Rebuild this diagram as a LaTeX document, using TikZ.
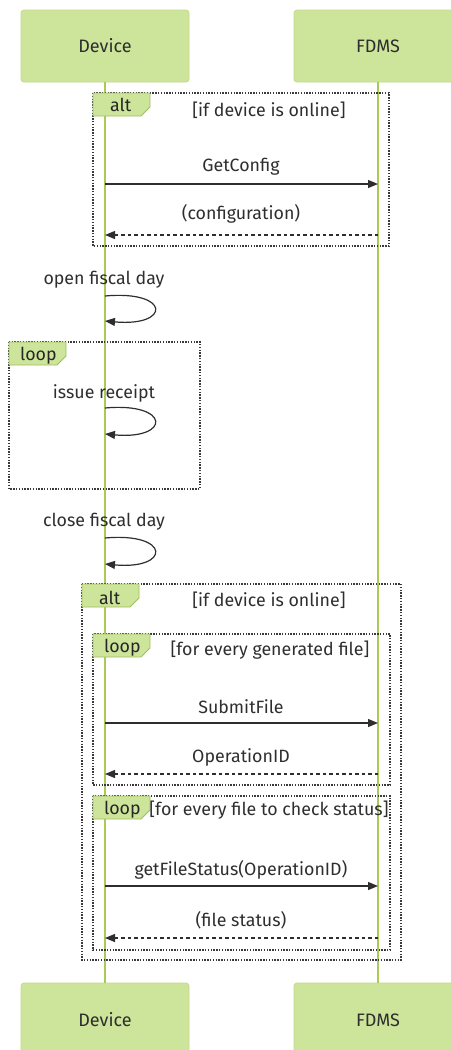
\documentclass[tikz,border=0pt]{standalone}
\usepackage{fontspec}
\setmainfont{Fira Sans}
\usetikzlibrary{arrows.meta}
\definecolor{actfill}{HTML}{CDE49B}
\definecolor{actline}{HTML}{C3DA8C}
\definecolor{lifeln}{HTML}{A9CB55}
\definecolor{txt}{HTML}{2E2E2E}
\definecolor{frm}{HTML}{3A3A3A}
\definecolor{tabln}{HTML}{9DBF62}
\tikzset{
  actor/.style={draw=actline, fill=actfill, rounded corners=3pt, line width=0.8pt},
  actortext/.style={text=txt, font=\fontsize{18}{20}\selectfont, anchor=center},
  life/.style={draw=lifeln, line width=1.6pt},
  frame/.style={draw=frm, line width=1.1pt, dash pattern=on 1.4pt off 1.4pt},
  tabshape/.style={fill=actfill, draw=tabln, line width=0.8pt},
  lbl/.style={text=txt, font=\fontsize{17.8}{20}\selectfont, anchor=center, inner sep=0pt},
  tablbl/.style={text=black!85, font=\fontsize{17.8}{20}\selectfont, anchor=west, inner sep=0pt},
  msg/.style={draw=txt, line width=1.2pt, -{Triangle[length=10pt,width=8pt]}},
  reply/.style={draw=txt, line width=1.2pt, dash pattern=on 3.5pt off 3pt, -{Triangle[length=10pt,width=8pt]}},
  self/.style={draw=txt, line width=1.2pt, -{Triangle[length=10pt,width=8pt]}},
}
\begin{document}
\begin{tikzpicture}[x=1pt,y=-1pt]
\useasboundingbox (0,0) rectangle (450,1050);
% actors
\draw[actor] (21,10) rectangle (189,82);
\node[actortext] (devtop) at (105,46) {Device};
\draw[actor] (294,10) rectangle (470,82);
\node[actortext] (fdmstop) at (378,46) {FDMS};
\draw[actor] (21,983) rectangle (189,1070);
\node[actortext] (devbot) at (105,1020) {Device};
\draw[actor] (294,983) rectangle (470,1070);
\node[actortext] (fdmsbot) at (378,1020) {FDMS};
\coordinate (dt) at (105,82); \coordinate (db) at (105,983);
\coordinate (ft) at (378,82); \coordinate (fb) at (378,983);
\draw[life] (dt) -- (db);
\draw[life] (ft) -- (fb);

% alt 1
\draw[frame] (93,93) rectangle (389,246);
\draw[tabshape] (93,93) -- (150,93) -- (150,107) -- (141,116) -- (93,116) -- cycle;
\node[tablbl] (alt1) at (110,105) {alt};
\node[lbl] (alt1c) at (269,110) {[if device is online]};
\node[lbl] (m1) at (241,167) {GetConfig};
\coordinate (m1a) at (105,184); \coordinate (m1b) at (378,184);
\draw[msg] (m1a) -- (m1b);
\node[lbl] (m2) at (241,214) {(configuration)};
\coordinate (m2a) at (378,235); \coordinate (m2b) at (105,235);
\draw[reply] (m2a) -- (m2b);

% open fiscal day
\node[lbl] (s1) at (104,280) {open fiscal day};
\coordinate (s1a) at (105,296); \coordinate (s1b) at (105,321);
\draw[self] (s1a) .. controls (171,290) and (171,327) .. (s1b);

% loop
\draw[frame] (9,342) rectangle (200,489);
\draw[tabshape] (9,342) -- (66,342) -- (66,356) -- (57,365) -- (9,365) -- cycle;
\node[tablbl] (loop1) at (20,356) {loop};
\node[lbl] (s2) at (104,393) {issue receipt};
\coordinate (s2a) at (105,408); \coordinate (s2b) at (105,434);
\draw[self] (s2a) .. controls (171,402) and (171,440) .. (s2b);

% close fiscal day
\node[lbl] (s3) at (104,522) {close fiscal day};
\coordinate (s3a) at (105,538); \coordinate (s3b) at (105,564);
\draw[self] (s3a) .. controls (171,532) and (171,570) .. (s3b);

% alt 2
\draw[frame] (82,584) rectangle (401,960);
\draw[tabshape] (82,584) -- (139,584) -- (139,598) -- (130,607) -- (82,607) -- cycle;
\node[tablbl] (alt2) at (99,598) {alt};
\node[lbl] (alt2c) at (269,600) {[if device is online]};

% inner loop 1
\draw[frame] (93,634) rectangle (390,785);
\draw[tabshape] (93,634) -- (150,634) -- (150,648) -- (141,657) -- (93,657) -- cycle;
\node[tablbl] (loop2) at (104,648) {loop};
\node[lbl] (loop2c) at (270,650) {[for every generated file]};
\node[lbl] (m3) at (241,707) {SubmitFile};
\coordinate (m3a) at (105,723); \coordinate (m3b) at (378,723);
\draw[msg] (m3a) -- (m3b);
\node[lbl] (m4) at (241,757) {OperationID};
\coordinate (m4a) at (378,774); \coordinate (m4b) at (105,774);
\draw[reply] (m4a) -- (m4b);

% inner loop 2
\draw[frame] (93,796) rectangle (390,950);
\draw[tabshape] (93,796) -- (150,796) -- (150,810) -- (141,819) -- (93,819) -- cycle;
\node[tablbl] (loop3) at (104,810) {loop};
\node[lbl] (loop3c) at (269,810) {[for every file to check status]};
\node[lbl] (m5) at (241,870) {getFileStatus(OperationID)};
\coordinate (m5a) at (105,886); \coordinate (m5b) at (378,886);
\draw[msg] (m5a) -- (m5b);
\node[lbl] (m6) at (241,920) {(file status)};
\coordinate (m6a) at (378,938); \coordinate (m6b) at (105,938);
\draw[reply] (m6a) -- (m6b);
\end{tikzpicture}
\end{document}
